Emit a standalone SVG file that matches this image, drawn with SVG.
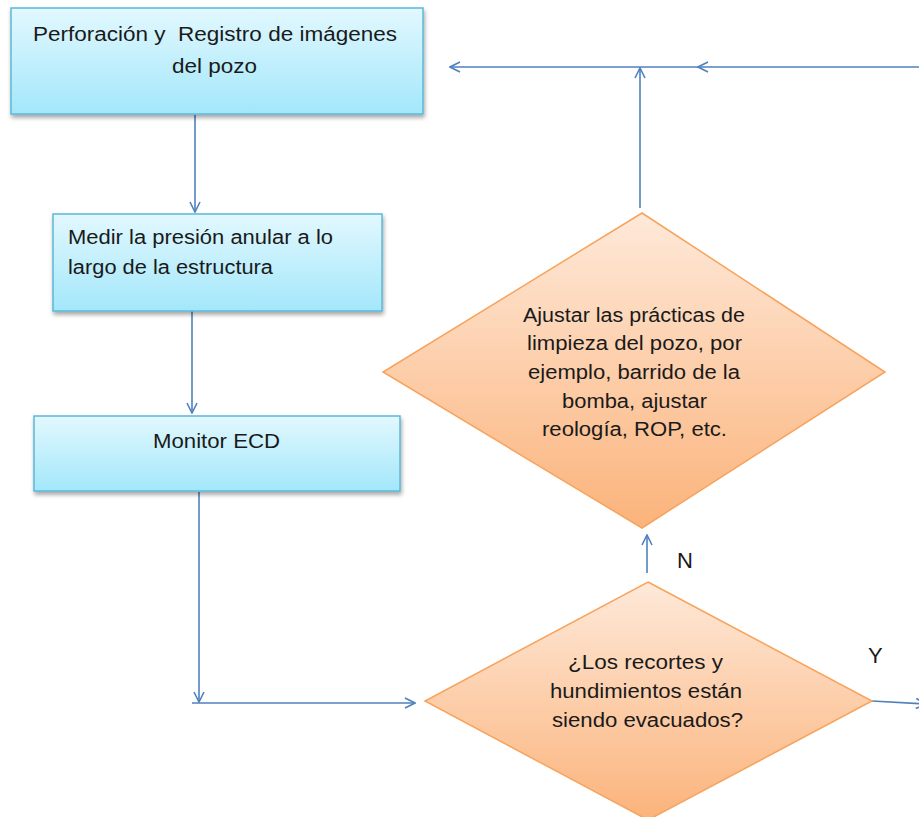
<svg xmlns="http://www.w3.org/2000/svg" width="919" height="817" viewBox="0 0 919 817">
<style>
.box{stroke:#5bb8d8;stroke-width:1.5;fill:url(#gBlue);filter:url(#sh)}
.dia{stroke:#f7a35c;stroke-width:1.5;fill:url(#gOrange)}
.t{font-family:"Liberation Sans",Arial,sans-serif;font-size:20px;fill:#1a1a1a}
.lbl{font-family:"Liberation Sans",Arial,sans-serif;font-size:22px;fill:#1a1a1a}
.c{fill:none;stroke:#4f81bd;stroke-width:1.6}
</style>
<defs>
<linearGradient id="gBlue" x1="0" y1="0" x2="0" y2="1">
<stop offset="0" stop-color="#e2f8fe"/>
<stop offset="1" stop-color="#a3e7fb"/>
</linearGradient>
<linearGradient id="gOrange" x1="0" y1="0" x2="0" y2="1">
<stop offset="0" stop-color="#fee9d9"/>
<stop offset="1" stop-color="#fbb37b"/>
</linearGradient>
<filter id="sh" x="-10%" y="-10%" width="120%" height="130%">
<feDropShadow dx="1" dy="3" stdDeviation="2" flood-color="#000" flood-opacity="0.35"/>
</filter>
<marker id="arr" viewBox="0 0 12 12" refX="11" refY="6" markerWidth="12" markerHeight="12" markerUnits="userSpaceOnUse" orient="auto">
<path d="M1,1 L11,6 L1,11" fill="none" stroke="#4f81bd" stroke-width="1.6"/>
</marker>
</defs>

<g id="connectors">
<path class="c" d="M195,115 V212" marker-end="url(#arr)"/>
<path class="c" d="M192,311 V413" marker-end="url(#arr)"/>
<path class="c" d="M199,492 V702" marker-end="url(#arr)"/>
<path class="c" d="M192,703 H415" marker-end="url(#arr)"/>
<path class="c" d="M647,573 V535" marker-end="url(#arr)"/>
<path class="c" d="M640,208 V68" marker-end="url(#arr)"/>
<path class="c" d="M919,67 H698" marker-end="url(#arr)"/>
<path class="c" d="M698,67 H450" marker-end="url(#arr)"/>
<path class="c" d="M872,701 L926,704" marker-end="url(#arr)"/>
</g>

<g id="node-perforacion">
<rect class="box" x="11" y="8" width="412" height="106"/>
<text class="t" x="33" y="41" textLength="364" lengthAdjust="spacingAndGlyphs" xml:space="preserve">Perforación y  Registro de imágenes</text>
<text class="t" x="172" y="73" textLength="85" lengthAdjust="spacingAndGlyphs">del pozo</text>
</g>

<g id="node-medir">
<rect class="box" x="53" y="214" width="329" height="97"/>
<text class="t" x="68" y="244" textLength="265" lengthAdjust="spacingAndGlyphs">Medir la presión anular a lo</text>
<text class="t" x="68" y="274" textLength="205" lengthAdjust="spacingAndGlyphs">largo de la estructura</text>
</g>

<g id="node-monitor">
<rect class="box" x="34" y="416" width="366" height="75"/>
<text class="t" x="153" y="448" textLength="127" lengthAdjust="spacingAndGlyphs">Monitor ECD</text>
</g>

<g id="node-ajustar">
<polygon class="dia" points="642,213 885,372 642,528 383,372"/>
<text class="t" x="523" y="322" textLength="222" lengthAdjust="spacingAndGlyphs">Ajustar las prácticas de</text>
<text class="t" x="527" y="350" textLength="215" lengthAdjust="spacingAndGlyphs">limpieza del pozo, por</text>
<text class="t" x="528" y="379" textLength="212" lengthAdjust="spacingAndGlyphs">ejemplo, barrido de la</text>
<text class="t" x="562" y="408" textLength="145" lengthAdjust="spacingAndGlyphs">bomba, ajustar</text>
<text class="t" x="542" y="436" textLength="185" lengthAdjust="spacingAndGlyphs">reología, ROP, etc.</text>
</g>

<g id="node-pregunta">
<polygon class="dia" points="648,582 872,701 648,820 425,701"/>
<text class="t" x="568" y="669" textLength="155" lengthAdjust="spacingAndGlyphs">¿Los recortes y</text>
<text class="t" x="550" y="698" textLength="192" lengthAdjust="spacingAndGlyphs">hundimientos están</text>
<text class="t" x="552" y="727" textLength="191" lengthAdjust="spacingAndGlyphs">siendo evacuados?</text>
</g>

<g id="labels">
<text class="lbl" x="677" y="568">N</text>
<text class="lbl" x="868" y="663">Y</text>
</g>
</svg>
